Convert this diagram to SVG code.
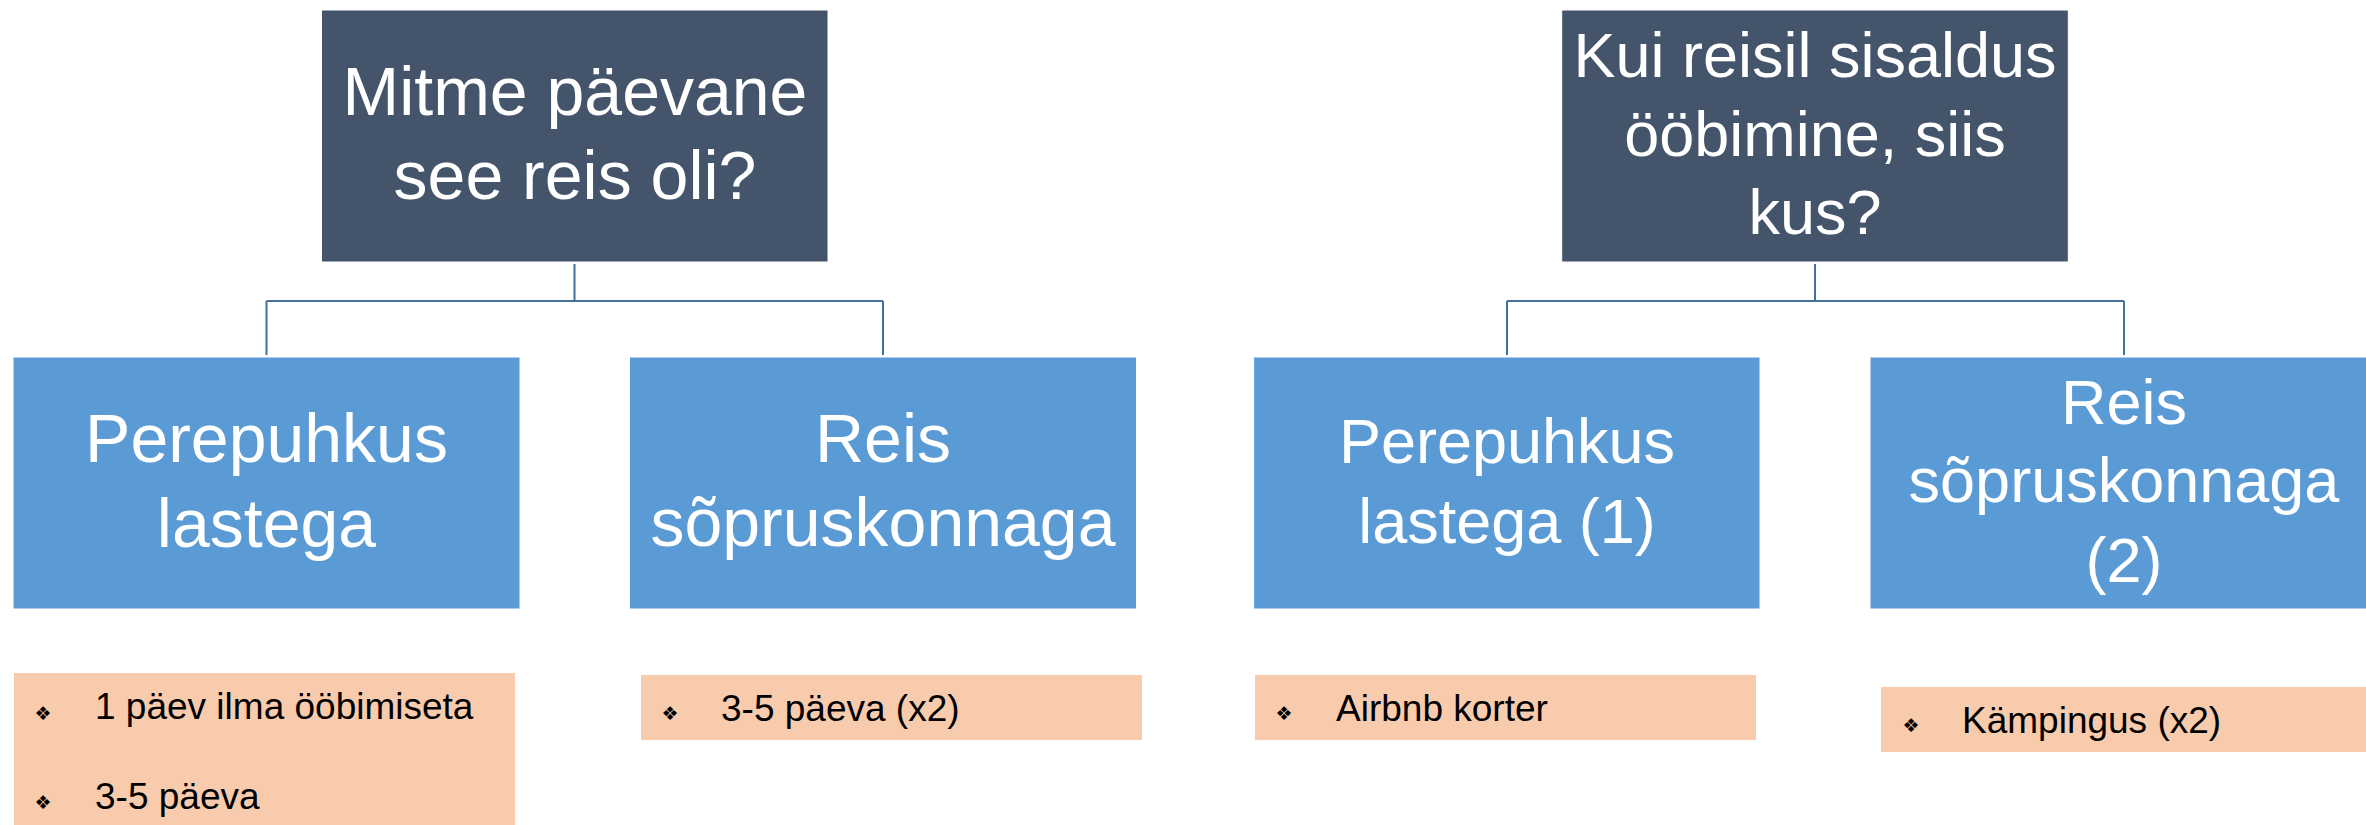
<svg xmlns="http://www.w3.org/2000/svg" width="2366" height="825" viewBox="0 0 2366 825">
<style>
.root{fill:#44546A;stroke:#ffffff;stroke-width:1}
.child{fill:#5B9BD5;stroke:#ffffff;stroke-width:1}
.note{fill:#F8CBAD}
.big{font-family:"Liberation Sans",Arial,sans-serif;fill:#ffffff;text-anchor:middle}
.l{font-size:68px}
.r{font-size:63px}
.item{font-family:"Liberation Sans",Arial,sans-serif;font-size:37px;fill:#000000}
.bul{font-family:"DejaVu Sans",sans-serif;font-size:19px;fill:#000000;text-anchor:middle}
.conn{fill:none;stroke:#41719C;stroke-width:2}
</style>
<g id="connectors">
<path class="conn" d="M574.5 264 V301 M266.5 301 H883 M266.5 301 V355 M883 301 V355"/>
<path class="conn" d="M1815 264 V301 M1507 301 H2124 M1507 301 V355 M2124 301 V355"/>
</g>
<g id="root1">
<rect class="root" x="321.5" y="10" width="506.5" height="252"/>
<text class="big l" x="575" y="115">Mitme päevane</text>
<text class="big l" x="575" y="199">see reis oli?</text>
</g>
<g id="child1">
<rect class="child" x="13" y="357" width="507" height="252"/>
<text class="big l" x="266.5" y="462">Perepuhkus</text>
<text class="big l" x="266.5" y="546.5">lastega</text>
</g>
<g id="child2">
<rect class="child" x="629.5" y="357" width="507" height="252"/>
<text class="big l" x="883" y="462">Reis</text>
<text class="big l" x="883" y="546">sõpruskonnaga</text>
</g>
<g id="root2">
<rect class="root" x="1561.7" y="10" width="506.6" height="252"/>
<text class="big r" x="1815" y="76.7">Kui reisil sisaldus</text>
<text class="big r" x="1815" y="155.7">ööbimine, siis</text>
<text class="big r" x="1815" y="234.3">kus?</text>
</g>
<g id="child3">
<rect class="child" x="1253.6" y="357" width="506.4" height="252"/>
<text class="big r" x="1507" y="463.3">Perepuhkus</text>
<text class="big r" x="1507" y="542.7">lastega (1)</text>
</g>
<g id="child4">
<rect class="child" x="1870" y="357" width="507" height="252"/>
<text class="big r" x="2124" y="424">Reis</text>
<text class="big r" x="2124" y="502.3">sõpruskonnaga</text>
<text class="big r" x="2124" y="581.7">(2)</text>
</g>
<g id="note1">
<rect class="note" x="14" y="673" width="501" height="152"/>
<text class="bul" x="43" y="720">❖</text>
<text class="item" x="95" y="719.3">1 päev ilma ööbimiseta</text>
<text class="bul" x="43" y="808.5">❖</text>
<text class="item" x="95" y="809.3">3-5 päeva</text>
</g>
<g id="note2">
<rect class="note" x="641" y="675" width="501" height="65"/>
<text class="bul" x="670" y="720">❖</text>
<text class="item" x="721" y="720.7">3-5 päeva (x2)</text>
</g>
<g id="note3">
<rect class="note" x="1255" y="675" width="501" height="65"/>
<text class="bul" x="1284" y="720">❖</text>
<text class="item" x="1336" y="721.3">Airbnb korter</text>
</g>
<g id="note4">
<rect class="note" x="1881" y="687" width="501" height="65"/>
<text class="bul" x="1911" y="732">❖</text>
<text class="item" x="1962" y="733.3">Kämpingus (x2)</text>
</g>
</svg>
